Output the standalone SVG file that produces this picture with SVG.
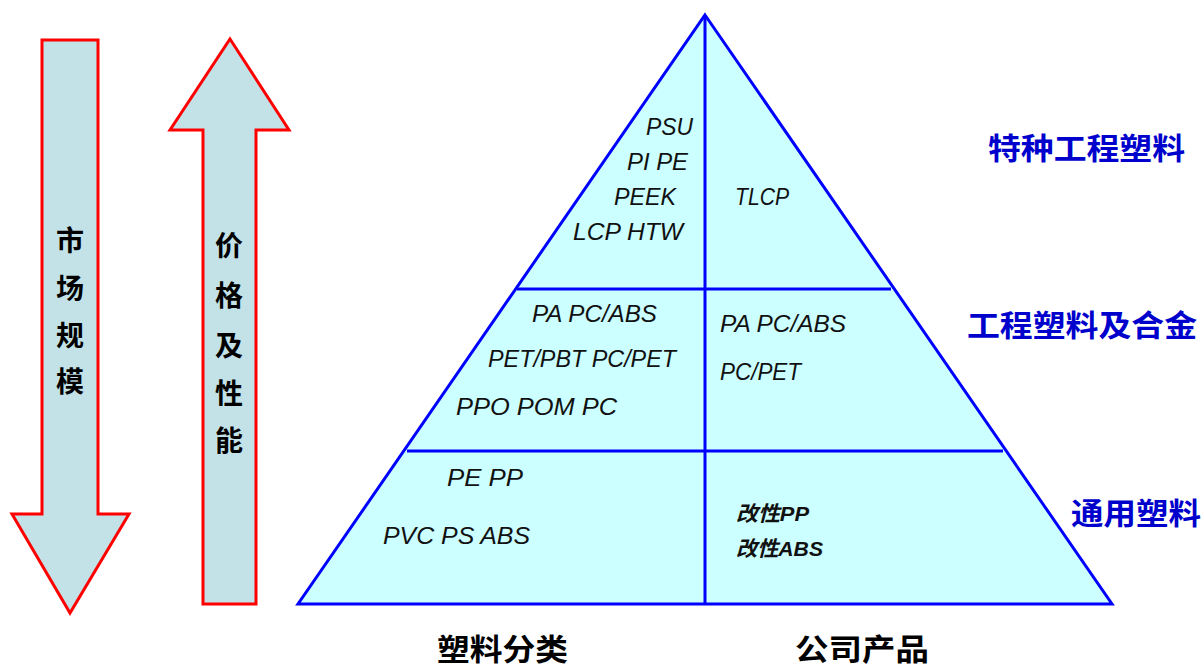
<svg xmlns="http://www.w3.org/2000/svg" width="1202" height="668" viewBox="0 0 1202 668">
<style>
.arrow{fill:#c2e2e8;stroke:#ff0000;stroke-width:3;stroke-linejoin:miter}
.tri{fill:#ccffff;stroke:#0000ff;stroke-width:3;stroke-linejoin:miter}
.ln{stroke:#0000ff;stroke-width:3;fill:none}
.it{font-family:"Liberation Sans",Arial,sans-serif;font-style:italic;font-size:24px;fill:#111}
.cjkit{font-family:"Liberation Sans","Noto Sans CJK SC",sans-serif;font-style:italic;font-weight:bold;font-size:21px;fill:#111}
.vt{font-family:"Noto Sans CJK SC",sans-serif;font-weight:bold;font-size:28px;fill:#000;text-anchor:middle}
.rl{font-family:"Noto Sans CJK SC",sans-serif;font-weight:bold;font-size:30px;fill:#0000cc}
.bl{font-family:"Noto Sans CJK SC",sans-serif;font-weight:bold;font-size:30px;fill:#000}
</style>
<g id="arrow-market">
<polygon class="arrow" points="42,40 98,40 98,514 129,514 70,613 12,514 42,514"/>
<text class="vt" x="70" y="251">市</text>
<text class="vt" x="70" y="299">场</text>
<text class="vt" x="70" y="346">规</text>
<text class="vt" x="70" y="392">模</text>
</g>
<g id="arrow-price">
<polygon class="arrow" points="230,39 289,130 256,130 256,604 203,604 203,130 170,130"/>
<text class="vt" x="229" y="256">价</text>
<text class="vt" x="229" y="306">格</text>
<text class="vt" x="229" y="356">及</text>
<text class="vt" x="229" y="404">性</text>
<text class="vt" x="229" y="451">能</text>
</g>
<g id="pyramid">
<polygon class="tri" points="705,15 1112,604 298,604"/>
</g>
<g id="connectors">
<line class="ln" x1="705" y1="15" x2="705" y2="604"/>
<line class="ln" x1="517" y1="289" x2="891" y2="289"/>
<line class="ln" x1="407" y1="451" x2="1003" y2="451"/>
</g>
<g id="tier-special">
<text class="it" x="646" y="135" textLength="47" lengthAdjust="spacingAndGlyphs">PSU</text>
<text class="it" x="627" y="170" textLength="61" lengthAdjust="spacingAndGlyphs">PI PE</text>
<text class="it" x="614" y="205" textLength="62" lengthAdjust="spacingAndGlyphs">PEEK</text>
<text class="it" x="573" y="240" textLength="110" lengthAdjust="spacingAndGlyphs">LCP HTW</text>
<text class="it" x="735" y="205" textLength="54" lengthAdjust="spacingAndGlyphs">TLCP</text>
</g>
<g id="tier-engineering">
<text class="it" x="532" y="322" textLength="125" lengthAdjust="spacingAndGlyphs">PA PC/ABS</text>
<text class="it" x="488" y="367" textLength="188" lengthAdjust="spacingAndGlyphs">PET/PBT PC/PET</text>
<text class="it" x="456" y="415" textLength="161" lengthAdjust="spacingAndGlyphs">PPO POM PC</text>
<text class="it" x="720" y="332" textLength="126" lengthAdjust="spacingAndGlyphs">PA PC/ABS</text>
<text class="it" x="720" y="380" textLength="81" lengthAdjust="spacingAndGlyphs">PC/PET</text>
</g>
<g id="tier-general">
<text class="it" x="447" y="486" textLength="76" lengthAdjust="spacingAndGlyphs">PE PP</text>
<text class="it" x="383" y="544" textLength="147" lengthAdjust="spacingAndGlyphs">PVC PS ABS</text>
<text class="cjkit" x="736" y="521" textLength="73" lengthAdjust="spacingAndGlyphs">改性PP</text>
<text class="cjkit" x="736" y="556" textLength="87" lengthAdjust="spacingAndGlyphs">改性ABS</text>
</g>
<g id="labels-right">
<text class="rl" x="988" y="159" textLength="197" lengthAdjust="spacingAndGlyphs">特种工程塑料</text>
<text class="rl" x="967" y="336" textLength="230" lengthAdjust="spacingAndGlyphs">工程塑料及合金</text>
<text class="rl" x="1071" y="524" textLength="130" lengthAdjust="spacingAndGlyphs">通用塑料</text>
</g>
<g id="labels-bottom">
<text class="bl" x="437" y="660" textLength="131" lengthAdjust="spacingAndGlyphs">塑料分类</text>
<text class="bl" x="795" y="660" textLength="134" lengthAdjust="spacingAndGlyphs">公司产品</text>
</g>
</svg>
